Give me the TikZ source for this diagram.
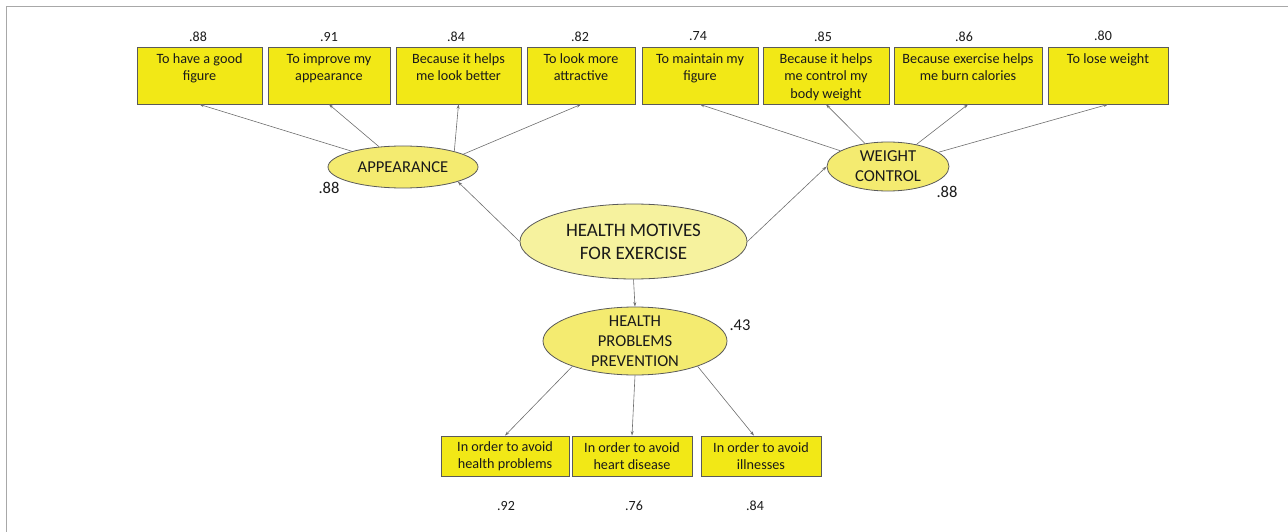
\documentclass[tikz,border=0pt]{standalone}
\usepackage{fontspec}
\setmainfont{Carlito}
\usetikzlibrary{shapes.geometric,arrows.meta}
\definecolor{boxfill}{HTML}{F2E816}
\definecolor{ellfill}{HTML}{F4EB70}
\definecolor{hmfill}{HTML}{F6F29E}
\definecolor{edgegray}{HTML}{5A5A5A}
\definecolor{linegray}{HTML}{6E6E6E}
\definecolor{framegray}{HTML}{A8A8A8}
\definecolor{ink}{HTML}{1A1A1A}
\newcommand\toptext[2]{\parbox[c][49pt][t]{#1}{\centering\strut #2}}
\begin{document}
\begin{tikzpicture}[x=1pt,y=-1pt,
  tbox/.style={draw=edgegray, fill=boxfill, line width=0.8pt, inner sep=0pt, minimum height=57pt, font=\fontsize{14.2}{17.5}\selectfont, text=ink},
  bbox/.style={draw=edgegray, fill=boxfill, line width=0.8pt, inner sep=0pt, minimum height=40pt, align=center, font=\fontsize{14.2}{17}\selectfont, text=ink},
  lat/.style={ellipse, draw=edgegray, fill=ellfill, line width=0.8pt, inner sep=0pt},
  ltext/.style={align=center, inner sep=0pt, text=ink},
  num/.style={inner sep=0pt, text=ink, font=\fontsize{14}{16}\selectfont},
  bignum/.style={inner sep=0pt, text=ink, font=\fontsize{16.5}{18}\selectfont},
  arr/.style={draw=linegray, line width=0.6pt, -{Stealth[length=4.5pt,width=3pt]}}
]
\useasboundingbox (0,0) rectangle (1288,532);
\draw[framegray, line width=1.2pt] (6.5,532) -- (6.5,6.5) -- (1288,6.5);

% top indicator boxes
\node[tbox, minimum width=125pt] (b1) at (199.5,75.5) {\toptext{121pt}{To have a good\\figure}};
\node[tbox, minimum width=122pt] (b2) at (329,75.5) {\toptext{118pt}{To improve my\\appearance}};
\node[tbox, minimum width=125pt] (b3) at (458.5,75.5) {\toptext{121pt}{Because it helps\\me look better}};
\node[tbox, minimum width=108pt] (b4) at (581,75.5) {\toptext{104pt}{To look more\\attractive}};
\node[tbox, minimum width=116pt] (b5) at (700,75.5) {\toptext{112pt}{To maintain my\\figure}};
\node[tbox, minimum width=126pt] (b6) at (826,75.5) {\toptext{122pt}{Because it helps\\me control my\\body weight}};
\node[tbox, minimum width=148pt] (b7) at (968,75.5) {\toptext{146pt}{Because exercise helps\\me burn calories}};
\node[tbox, minimum width=120pt] (b8) at (1108,75.5) {\toptext{116pt}{To lose weight}};

% loadings above boxes
\node[num] (n1) at (198,37) {.88};
\node[num] (n2) at (329,37) {.91};
\node[num] (n3) at (456,37) {.84};
\node[num] (n4) at (580,37) {.82};
\node[num] (n5) at (698,36) {.74};
\node[num] (n6) at (823,37) {.85};
\node[num] (n7) at (964,37) {.86};
\node[num] (n8) at (1103,36) {.80};

% latent variables
\node[lat, minimum width=150pt, minimum height=42pt] (app) at (403,167) {};
\node[ltext, font=\fontsize{16.6}{20}\selectfont] (appt) at (app.center) {APPEARANCE};
\node[lat, minimum width=122pt, minimum height=49pt] (wc) at (888,166.5) {};
\node[ltext, font=\fontsize{16.7}{20}\selectfont] (wct) at (wc.center) {WEIGHT\\CONTROL};
\node[lat, fill=hmfill, minimum width=227pt, minimum height=75pt] (hm) at (633.5,241.5) {};
\node[ltext, font=\fontsize{19}{23}\selectfont] (hmt) at (hm.center) {HEALTH MOTIVES\\FOR EXERCISE};
\node[lat, minimum width=184pt, minimum height=68pt] (hpp) at (635,341) {};
\node[ltext, font=\fontsize{16.6}{20}\selectfont] (hppt) at (hpp.center) {HEALTH\\PROBLEMS\\PREVENTION};

\node[bignum] (r1) at (329,188) {.88};
\node[bignum] (r2) at (947,192) {.88};
\node[bignum] (r3) at (740,325) {.43};

% bottom indicator boxes
\node[bbox, minimum width=128pt] (c1) at (505,456) {In order to avoid\\health problems};
\node[bbox, minimum width=120pt] (c2) at (632,456) {In order to avoid\\heart disease};
\node[bbox, minimum width=120pt] (c3) at (761,456) {In order to avoid\\illnesses};

\node[num] (m1) at (506,506) {.92};
\node[num] (m2) at (634,506) {.76};
\node[num] (m3) at (755,506) {.84};

% connectors
\draw[arr] (app) -- (b1.south);
\draw[arr] (app) -- (b2.south);
\draw[arr] (app.17) -- (b3.south);
\draw[arr] (app.12) -- (b4.south);
\draw[arr] (wc) -- (b5.south);
\draw[arr] (wc) -- (b6.south);
\draw[arr] (wc) -- (b7.south);
\draw[arr] (wc) -- (b8.south);
\draw[arr] (hm.west) -- (app.-15);
\draw[arr] (hm.east) -- (wc.west);
\draw[arr] (hm.south) -- (hpp.north);
\draw[arr] (hpp.202) -- (c1.north);
\draw[arr] (hpp.south) -- (c2.north);
\draw[arr] (hpp.-22) -- ([xshift=-7pt]c3.north);
\end{tikzpicture}
\end{document}
